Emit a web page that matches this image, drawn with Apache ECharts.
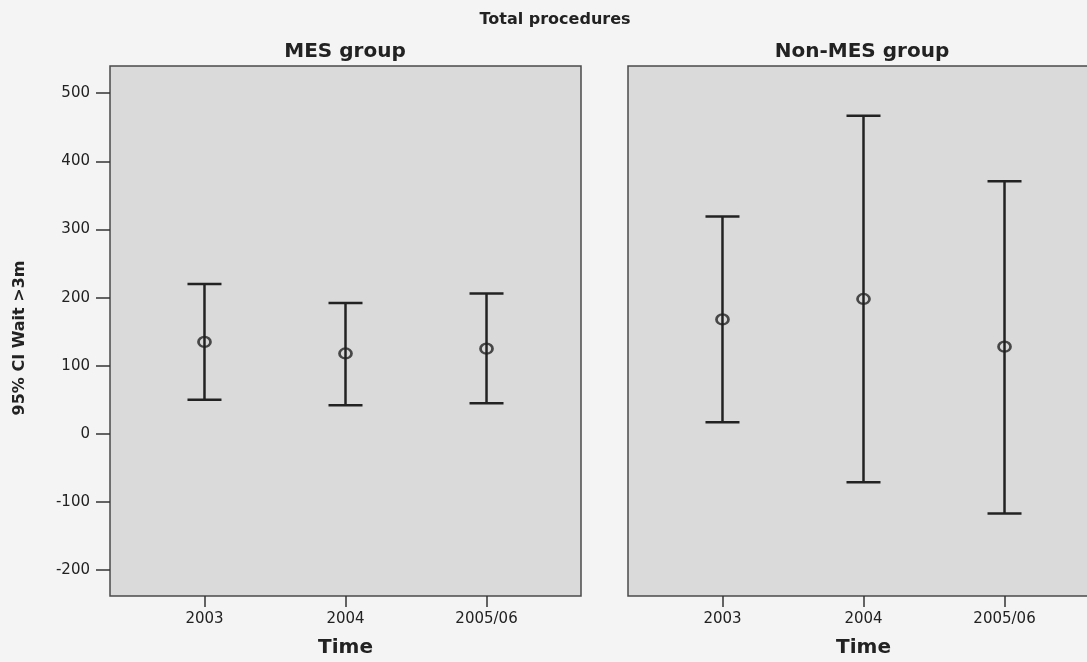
<!DOCTYPE html>
<html>
<head>
<meta charset="utf-8">
<script src="https://cdn.jsdelivr.net/npm/echarts@6/dist/echarts.min.js"></script>
<style>
html,body{margin:0;padding:0;background:#f4f4f4;}
#chart{width:1087px;height:662px;}
</style>
</head>
<body>
<div id="chart"></div>
<script>
const categories = ['2003', '2004', '2005/06'];
const mesLower = [50, 42, 45];
const mesMean = [135, 118, 125];
const mesUpper = [220, 192, 206];
const nonLower = [17, -71, -117];
const nonMean = [168, 198, 128];
const nonUpper = [319, 467, 371];
const yTicks = [-200, -100, 0, 100, 200, 300, 400, 500];
const xPositions = [1, 2, 3];

const FONT = '"DejaVu Sans", "Liberation Sans", sans-serif';
const INK = '#222';

function barData(lo, hi) { return xPositions.map((x, i) => [x, lo[i], hi[i]]); }
function meanData(m) { return xPositions.map((x, i) => [x, m[i]]); }

function renderBar(params, api) {
  const x = api.value(0);
  const lo = api.coord([x, api.value(1)]);
  const hi = api.coord([x, api.value(2)]);
  const hw = 17;
  const st = { stroke: INK, lineWidth: 2.5 };
  return {
    type: 'group',
    children: [
      { type: 'line', shape: { x1: lo[0], y1: lo[1], x2: hi[0], y2: hi[1] }, style: st },
      { type: 'line', shape: { x1: lo[0] - hw, y1: lo[1], x2: lo[0] + hw, y2: lo[1] }, style: st },
      { type: 'line', shape: { x1: hi[0] - hw, y1: hi[1], x2: hi[0] + hw, y2: hi[1] }, style: st }
    ]
  };
}

function xAxisFor(gi) {
  return {
    type: 'value', gridIndex: gi, min: 0.33, max: 3.67,
    name: 'Time', nameLocation: 'middle', nameGap: 42,
    nameTextStyle: { fontFamily: FONT, fontWeight: 'bold', fontSize: 20, color: INK },
    axisLine: { show: false, onZero: false },
    splitLine: { show: false },
    axisTick: { show: true, customValues: xPositions, length: 11, lineStyle: { color: '#333', width: 1.5 } },
    axisLabel: { show: true, customValues: xPositions, margin: 16, fontFamily: FONT, fontSize: 15, color: INK,
      formatter: v => categories[Math.round(v) - 1] }
  };
}

const chart = echarts.init(document.getElementById('chart'));
chart.setOption({
  backgroundColor: '#f4f4f4',
  animation: false,
  grid: [
    { left: 110, top: 66, width: 471, height: 530, show: true, backgroundColor: '#dadada', borderColor: '#4a4a4a', borderWidth: 1.5, outerBoundsMode: 'none' },
    { left: 628, top: 66, width: 471, height: 530, show: true, backgroundColor: '#dadada', borderColor: '#4a4a4a', borderWidth: 1.5, outerBoundsMode: 'none' }
  ],
  xAxis: [xAxisFor(0), xAxisFor(1)],
  yAxis: [
    { type: 'value', gridIndex: 0, min: -238, max: 540,
      axisLine: { show: false, onZero: false }, splitLine: { show: false },
      axisTick: { show: true, customValues: yTicks, length: 14, lineStyle: { color: '#333', width: 1.5 } },
      axisLabel: { show: true, customValues: yTicks, margin: 20, fontFamily: FONT, fontSize: 15, color: INK } },
    { type: 'value', gridIndex: 1, min: -238, max: 540,
      axisLine: { show: false, onZero: false }, splitLine: { show: false },
      axisTick: { show: false }, axisLabel: { show: false } }
  ],
  graphic: [
    { type: 'text', x: 555, y: 20, style: { text: 'Total procedures', align: 'center', verticalAlign: 'middle', font: 'bold 16px ' + FONT, fill: INK } },
    { type: 'text', x: 345, y: 52, style: { text: 'MES group', align: 'center', verticalAlign: 'middle', font: 'bold 20px ' + FONT, fill: INK } },
    { type: 'text', x: 862, y: 52, style: { text: 'Non-MES group', align: 'center', verticalAlign: 'middle', font: 'bold 20px ' + FONT, fill: INK } },
    { type: 'text', x: 20, y: 338, rotation: Math.PI / 2, style: { text: '95% CI Wait >3m', align: 'center', verticalAlign: 'middle', font: 'bold 16px ' + FONT, fill: INK } }
  ],
  series: [
    { type: 'custom', xAxisIndex: 0, yAxisIndex: 0, renderItem: renderBar, data: barData(mesLower, mesUpper), clip: false },
    { type: 'custom', xAxisIndex: 1, yAxisIndex: 1, renderItem: renderBar, data: barData(nonLower, nonUpper), clip: false },
    { type: 'scatter', xAxisIndex: 0, yAxisIndex: 0, data: meanData(mesMean), symbol: 'circle', symbolSize: [12, 10],
      itemStyle: { color: 'rgba(0,0,0,0)', borderColor: INK, borderWidth: 2.5 } },
    { type: 'scatter', xAxisIndex: 1, yAxisIndex: 1, data: meanData(nonMean), symbol: 'circle', symbolSize: [12, 10],
      itemStyle: { color: 'rgba(0,0,0,0)', borderColor: INK, borderWidth: 2.5 } }
  ]
});
</script>
</body>
</html>
